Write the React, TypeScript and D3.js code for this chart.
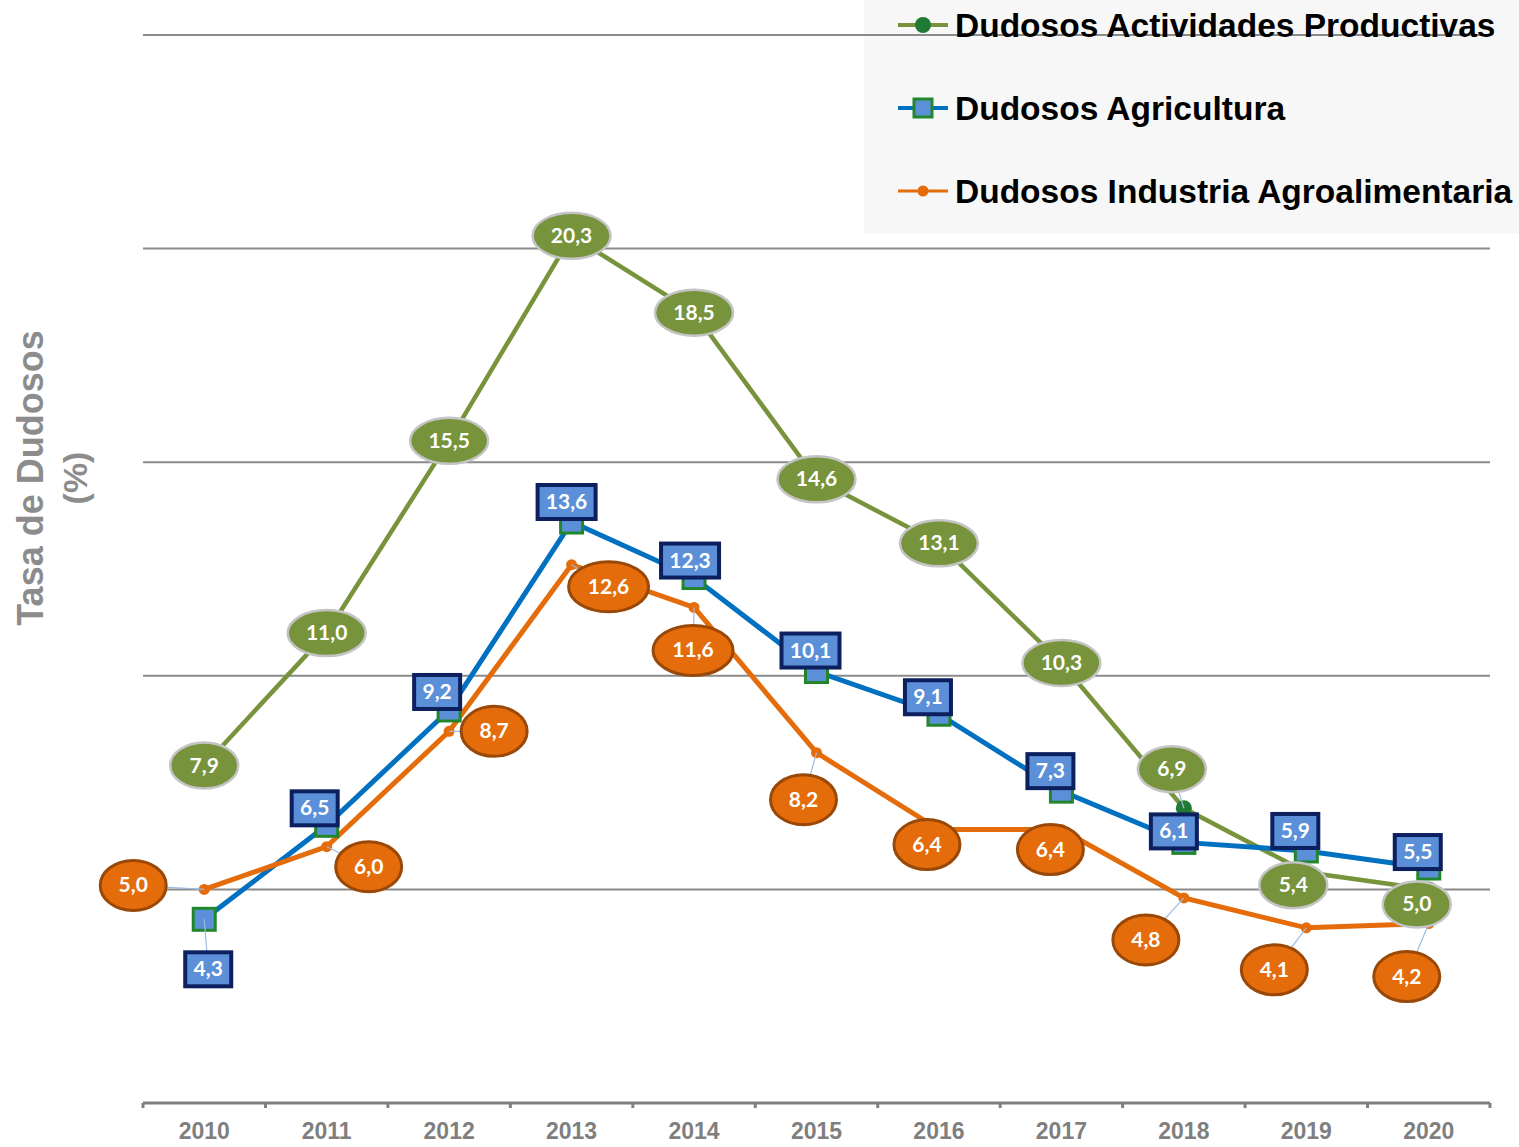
import * as d3 from "d3";

const years = ["2010", "2011", "2012", "2013", "2014", "2015", "2016", "2017", "2018", "2019", "2020"];
const productivas = [7.9, 11.0, 15.5, 20.3, 18.5, 14.6, 13.1, 10.3, 6.9, 5.4, 5.0];
const agricultura = [4.3, 6.5, 9.2, 13.6, 12.3, 10.1, 9.1, 7.3, 6.1, 5.9, 5.5];
const agroalimentaria = [5.0, 6.0, 8.7, 12.6, 11.6, 8.2, 6.4, 6.4, 4.8, 4.1, 4.2];
const gridValues = [5, 10, 15, 20, 25];

// desplazamiento de etiquetas respecto al punto (px)
const greenOff = [[0, 0], [0, 0], [0, 0], [0, 0], [0, 0], [0, 0], [0, 0], [0, 0], [-12, -39], [-13, 13], [-12, 15]];
const blueOff = [[4, 50], [-12, -17], [-12, -18], [-5, -20], [-4, -17], [-6, -21], [-11, -17], [-11, -20], [-10, -11], [-11, -20], [-11, -16]];
const orangeOff = [[-71, -4], [42, 20], [45, 0], [37, 22], [-1, 43], [-13, 47], [-12, 15], [-11, 20], [-38, 42], [-32, 42], [-22, 53]];

const W = 1519;
const H = 1147;
const left = 143;
const right = 1490;

const fmt = (v: number) => v.toFixed(1).replace(".", ",");

export default function App() {
  const x = d3.scaleBand<string>().domain(years).range([left, right]);
  const y = d3.scaleLinear().domain([0, 25]).range([1103, 35]);
  const cx = (i: number) => (x(years[i]) as number) + x.bandwidth() / 2;

  const line = d3
    .line<number>()
    .x((_, i) => cx(i))
    .y((d) => y(d));

  const labelFont = "Lato, 'Liberation Sans', sans-serif";

  const leader = (v: number, i: number, off: number[], key: string) => {
    const dist = Math.hypot(off[0], off[1]);
    if (dist < 40) return null;
    return (
      <line
        key={key}
        x1={cx(i)}
        y1={y(v)}
        x2={cx(i) + off[0]}
        y2={y(v) + off[1]}
        stroke="#9dbbe3"
        strokeWidth={1.2}
      />
    );
  };

  return (
    <svg
      width={W}
      height={H}
      style={{ position: "absolute", left: 0, top: 0, background: "#fff" }}
      fontFamily="'Liberation Sans', Arial, sans-serif"
    >
      {/* fondo de la leyenda */}
      <rect x={864} y={0} width={W - 864} height={234} fill="#f7f7f7" />

      {/* rejilla */}
      {gridValues.map((g) => (
        <line key={g} x1={left} x2={right} y1={y(g)} y2={y(g)} stroke="#8a8a8a" strokeWidth={2} />
      ))}

      {/* eje x */}
      <line x1={left} x2={right} y1={y(0)} y2={y(0)} stroke="#808080" strokeWidth={3} />
      {d3.range(years.length + 1).map((i) => {
        const xx = left + i * x.bandwidth();
        return <line key={i} x1={xx} x2={xx} y1={y(0)} y2={y(0) + 5} stroke="#808080" strokeWidth={3} />;
      })}
      {years.map((yr, i) => (
        <text key={yr} x={cx(i)} y={1139} textAnchor="middle" fontSize={23} fontWeight="bold" fill="#7f7f7f">
          {yr}
        </text>
      ))}

      {/* título eje y */}
      <g transform="translate(31,478) rotate(-90)">
        <text x={0} y={12} textAnchor="middle" fontSize={36} fontWeight="bold" fill="#8c8c8c">
          Tasa de Dudosos
        </text>
        <text x={0} y={56} textAnchor="middle" fontSize={34} fontWeight="bold" fill="#8c8c8c">
          (%)
        </text>
      </g>

      {/* líneas */}
      <path d={line(productivas) ?? ""} fill="none" stroke="#77933c" strokeWidth={4.5} />
      <path d={line(agricultura) ?? ""} fill="none" stroke="#0070c0" strokeWidth={5} />
      <path d={line(agroalimentaria) ?? ""} fill="none" stroke="#e46c0a" strokeWidth={5} />

      {/* marcadores */}
      {productivas.map((v, i) => (
        <circle key={"gm" + i} cx={cx(i)} cy={y(v)} r={8} fill="#1f7a34" />
      ))}
      {agricultura.map((v, i) => (
        <rect key={"bm" + i} x={cx(i) - 11} y={y(v) - 11} width={22} height={22} fill="#5b8fd8" stroke="#22872c" strokeWidth={3} />
      ))}
      {agroalimentaria.map((v, i) => (
        <circle key={"om" + i} cx={cx(i)} cy={y(v)} r={5.5} fill="#e46c0a" />
      ))}

      {/* líneas guía */}
      {productivas.map((v, i) => leader(v, i, greenOff[i], "gl" + i))}
      {agricultura.map((v, i) => leader(v, i, blueOff[i], "bl" + i))}
      {agroalimentaria.map((v, i) => leader(v, i, orangeOff[i], "ol" + i))}

      {/* etiquetas verdes */}
      {productivas.map((v, i) => {
        const lx = cx(i) + greenOff[i][0];
        const ly = y(v) + greenOff[i][1];
        const rx = fmt(v).length > 3 ? 39 : 34;
        return (
          <g key={"gt" + i}>
            <ellipse cx={lx} cy={ly} rx={rx} ry={23} fill="#77933c" stroke="#c4c4c4" strokeWidth={2.5} />
            <text x={lx} y={ly + 7} textAnchor="middle" fontSize={21} fontWeight="bold" fill="#fff" fontFamily={labelFont}>
              {fmt(v)}
            </text>
          </g>
        );
      })}

      {/* etiquetas azules */}
      {agricultura.map((v, i) => {
        const lx = cx(i) + blueOff[i][0];
        const ly = y(v) + blueOff[i][1];
        const w = fmt(v).length > 3 ? 58 : 46;
        return (
          <g key={"bt" + i}>
            <rect x={lx - w / 2} y={ly - 17} width={w} height={34} fill="#5b8fd8" stroke="#0c1f5e" strokeWidth={4} />
            <text x={lx} y={ly + 7} textAnchor="middle" fontSize={21} fontWeight="bold" fill="#fff" fontFamily={labelFont}>
              {fmt(v)}
            </text>
          </g>
        );
      })}

      {/* etiquetas naranjas */}
      {agroalimentaria.map((v, i) => {
        const lx = cx(i) + orangeOff[i][0];
        const ly = y(v) + orangeOff[i][1];
        const rx = fmt(v).length > 3 ? 40 : 33;
        return (
          <g key={"ot" + i}>
            <ellipse cx={lx} cy={ly} rx={rx} ry={25} fill="#e46c0a" stroke="#994808" strokeWidth={3} />
            <text x={lx} y={ly + 7} textAnchor="middle" fontSize={21} fontWeight="bold" fill="#fff" fontFamily={labelFont}>
              {fmt(v)}
            </text>
          </g>
        );
      })}

      {/* leyenda */}
      <g>
        <line x1={898} x2={948} y1={25} y2={25} stroke="#77933c" strokeWidth={4} />
        <circle cx={923} cy={25} r={8} fill="#1f7a34" />
        <text x={955} y={37} fontSize={33.5} fontWeight="bold" fill="#000">
          Dudosos Actividades Productivas
        </text>
        <line x1={898} x2={948} y1={108} y2={108} stroke="#0070c0" strokeWidth={4} />
        <rect x={914} y={99} width={18} height={18} fill="#5b8fd8" stroke="#22872c" strokeWidth={3} />
        <text x={955} y={120} fontSize={33.5} fontWeight="bold" fill="#000">
          Dudosos Agricultura
        </text>
        <line x1={898} x2={948} y1={191} y2={191} stroke="#e46c0a" strokeWidth={3} />
        <circle cx={923} cy={191} r={5.5} fill="#e46c0a" />
        <text x={955} y={203} fontSize={33.5} fontWeight="bold" fill="#000">
          Dudosos Industria Agroalimentaria
        </text>
      </g>
    </svg>
  );
}
